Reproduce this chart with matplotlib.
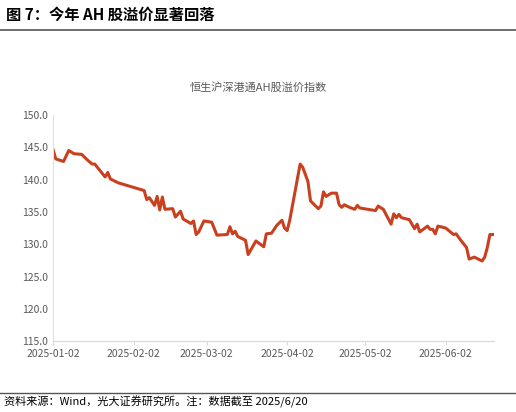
import matplotlib
matplotlib.use("Agg")
import matplotlib.pyplot as plt
import matplotlib.dates as mdates
import numpy as np
import pandas as pd

plt.rcParams['font.family'] = ['Noto Sans CJK SC', 'DejaVu Sans']

start = pd.Timestamp("2025-01-02")
day_offsets = [0, 1, 4, 6, 8, 11, 13, 15, 16, 18, 20, 21, 22, 25, 35, 36, 37, 39, 40, 41, 42, 43,
               46, 47, 49, 50, 53, 54, 55, 56, 58, 61, 63, 67, 68, 69, 70, 71, 74, 75, 78, 81,
               82, 84, 86, 88, 89, 90, 91, 95, 96, 98, 99, 102, 103, 104, 105, 107, 109, 110,
               111, 112, 114, 116, 117, 118, 124, 125, 127, 130, 131, 132, 133, 134, 137, 139,
               140, 141, 144, 145, 146, 147, 148, 151, 154, 155, 157, 159, 160, 162, 165, 166,
               167, 168, 169]
values = [144.6, 143.2, 142.8, 144.5, 144.0, 143.9, 143.1, 142.4, 142.4, 141.4, 140.4, 141.1, 140.1,
          139.5, 138.3, 136.9, 137.2, 136.0, 137.4, 135.3, 137.3, 135.4, 135.5, 134.2, 135.1, 133.9,
          133.2, 133.6, 131.5, 131.9, 133.6, 133.4, 131.4, 131.5, 132.7, 131.6, 132.0, 131.2, 130.6,
          128.4, 130.5, 129.6, 131.6, 131.7, 132.9, 133.7, 132.5, 132.1, 133.7, 142.4, 141.9, 139.7,
          136.7, 135.5, 135.9, 138.1, 137.4, 137.9, 137.9, 136.1, 135.7, 136.1, 135.7, 135.4, 136.0,
          135.6, 135.2, 135.9, 135.4, 133.1, 134.7, 134.1, 134.6, 134.1, 133.8, 132.4, 133.1, 131.9,
          132.8, 132.3, 132.3, 131.6, 132.8, 132.5, 131.5, 131.6, 130.5, 129.5, 127.7, 128.0, 127.4,
          128.0, 129.5, 131.5, 131.5]
dates = [start + pd.Timedelta(days=d) for d in day_offsets]
tick_labels = ["2025-01-02", "2025-02-02", "2025-03-02", "2025-04-02", "2025-05-02", "2025-06-02"]
yticks = [115, 120, 125, 130, 135, 140, 145, 150]

fig = plt.figure(figsize=(5.16, 4.12), dpi=100)
fig.text(0.012, 0.965, "图 7：今年 AH 股溢价显著回落", fontsize=11, fontweight='bold', va='center', ha='left')
fig.add_artist(plt.Line2D([0.0, 1.0], [0.928, 0.928], color='#555555', lw=1.2))
fig.text(0.5, 0.787, "恒生沪深港通AH股溢价指数", fontsize=8, color='#595959', ha='center', va='center')

ax = fig.add_axes([0.103, 0.172, 0.854, 0.549])
ax.plot(dates, values, color='#C9401F', lw=2.2)
ax.set_ylim(115, 150)
ax.set_yticks(yticks)
ax.set_yticklabels([f"{v:.1f}" for v in yticks])
ax.set_xlim(start, start + pd.Timedelta(days=169.5))
ax.set_xticks([pd.Timestamp(t) for t in tick_labels])
ax.set_xticklabels(tick_labels)
ax.tick_params(axis='both', labelsize=7.5, colors='#595959', length=0)
ax.tick_params(axis='x', length=3, color='#D9D9D9', pad=3)
for s in ['top', 'right']:
    ax.spines[s].set_visible(False)
ax.spines['left'].set_color('#E0E0E0')
ax.spines['bottom'].set_color('#D9D9D9')

fig.add_artist(plt.Line2D([0.0, 1.0], [0.047, 0.047], color='#555555', lw=1.0))
fig.text(0.008, 0.025, "资料来源：Wind，光大证券研究所。注：数据截至 2025/6/20", fontsize=8, va='center', ha='left')
fig.savefig("out.png", dpi=100)
